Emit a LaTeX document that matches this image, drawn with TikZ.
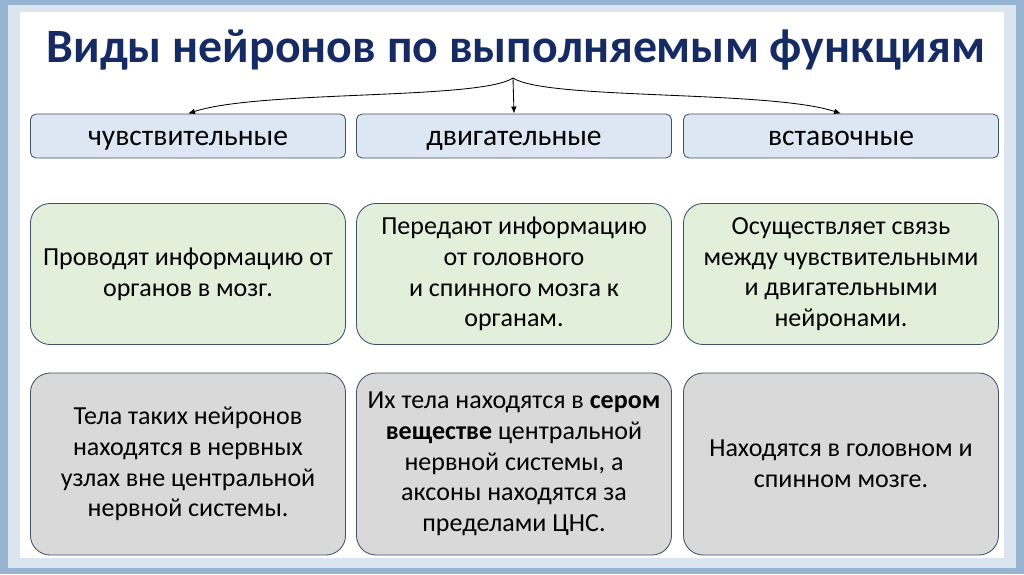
\documentclass[tikz,border=0pt]{standalone}
\usepackage{fontspec}
\setmainfont{Carlito}
\usetikzlibrary{arrows.meta, positioning}
\definecolor{Frost}{RGB}{150,180,210}
\definecolor{Navy}{RGB}{22,42,100}
\definecolor{LBlue}{RGB}{221,231,243}
\definecolor{LGreen}{RGB}{226,239,218}
\definecolor{LGray}{RGB}{217,217,217}
\definecolor{Edge}{RGB}{65,80,105}

\begin{document}
\begin{tikzpicture}[x=0.025cm, y=-0.025cm,
  kind/.style={draw=Edge, fill=LBlue, rounded corners=4pt, line width=0.6pt,
               minimum width=7.875cm, minimum height=1.1cm,
               text height=16pt, text depth=2pt,
               font=\fontsize{21}{25}\selectfont},
  card/.style={draw=Edge, fill=#1, rounded corners=14pt, line width=0.6pt,
               minimum width=7.875cm, align=center,
               font=\fontsize{18.5}{21.8}\selectfont},
  fn/.style={card=LGreen, minimum height=3.525cm},
  loc/.style={card=LGray, minimum height=4.55cm},
  conn/.style={-{Latex[length=5pt, width=4pt]}, draw=black, line width=0.6pt}
]
% Frame
\fill[Frost] (0,0) rectangle (1024,574);
\fill[Frost!35] (8,5) rectangle (1016,568);
\fill[white] (20,12) rectangle (1004,558);
\useasboundingbox (0,0) rectangle (1024,574);

% Title
\node[text=Navy, font=\fontsize{34}{38}\selectfont\bfseries] (title) at (516,50)
  {Виды нейронов по выполняемым функциям};

% Kinds
\node[kind] (sens)  at (188,136) {чувствительные};
\node[kind] (motor) at (514,136) {двигательные};
\node[kind] (inter) at (841,136) {вставочные};

% Fork
\coordinate (fork) at (513,78);
\draw[conn] (fork) .. controls (480,100) and (260,90) .. (sens.north);
\draw[conn] (fork) -- (motor.north);
\draw[conn] (fork) .. controls (546,100) and (770,90) .. (inter.north);

% Functions
\node[fn] (sensfn)  at (188,274) {Проводят информацию от\\органов в мозг.};
\node[fn] (motorfn) at (514,274) {Передают информацию\\от головного\\и спинного мозга к\\органам.};
\node[fn] (interfn) at (841,274) {Осуществляет связь\\между чувствительными\\и двигательными\\нейронами.};

% Location
\node[loc] (sensloc)  at (188,464) {Тела таких нейронов\\находятся в нервных\\узлах вне центральной\\нервной системы.};
\node[loc] (motorloc) at (514,464) {Их тела находятся в \textbf{сером}\\\textbf{веществе} центральной\\нервной системы, а\\аксоны находятся за\\пределами ЦНС.};
\node[loc] (interloc) at (841,464) {Находятся в головном и\\спинном мозге.};
\end{tikzpicture}
\end{document}
